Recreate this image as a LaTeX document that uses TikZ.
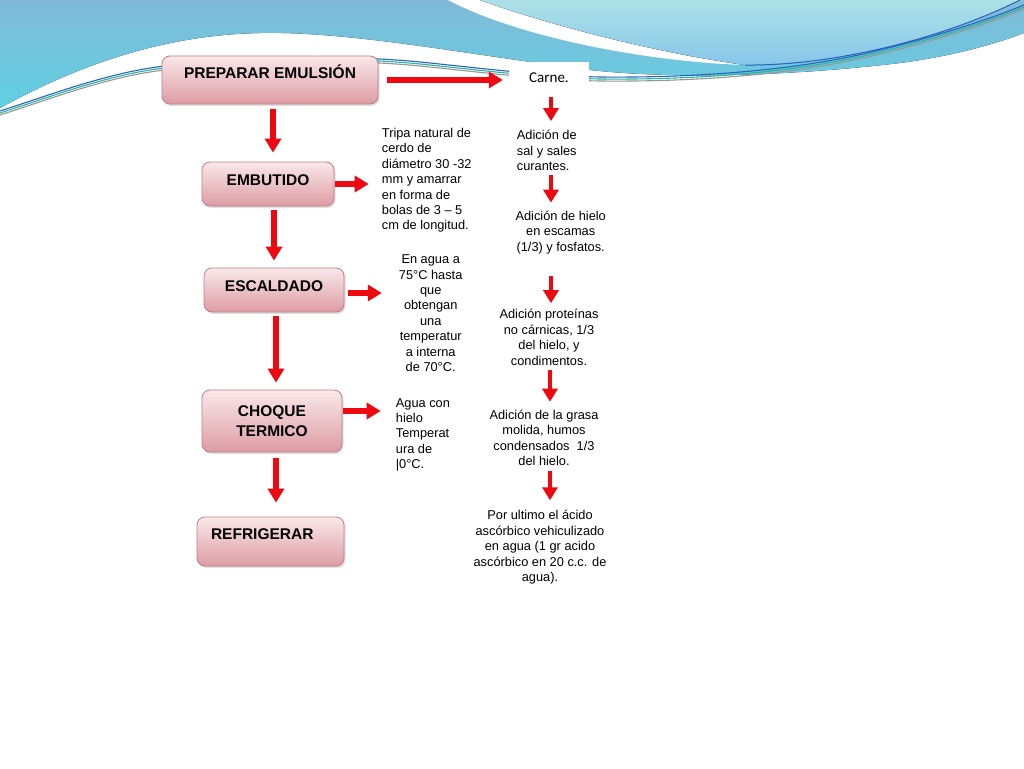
\documentclass[tikz,border=0pt]{standalone}
\usepackage{fontspec}
\setmainfont{Liberation Sans}
\newfontfamily\carlito{Carlito}
\usetikzlibrary{arrows.meta, shadows, calc}

\definecolor{rojo}{RGB}{238,8,16}
\definecolor{borde}{RGB}{190,125,134}
\definecolor{rosaclaro}{RGB}{249,232,234}
\definecolor{rosa}{RGB}{221,156,164}
\definecolor{ondaA1}{RGB}{128,186,216}
\definecolor{ondaA2}{RGB}{96,208,226}
\definecolor{ondaB1}{RGB}{172,225,230}
\definecolor{ondaB2}{RGB}{135,198,234}
\definecolor{ondaazul}{RGB}{40,100,190}
\definecolor{ondaverde}{RGB}{40,180,160}
\definecolor{ondagris}{RGB}{150,150,150}

\tikzset{
  etapa/.style={draw=borde, line width=0.8pt, rounded corners=8pt, top color=rosaclaro, bottom color=rosa,
    inner sep=0pt, align=center, font=\bfseries\fontsize{15.5}{20}\selectfont,
    drop shadow={opacity=0.25, shadow xshift=1.5pt, shadow yshift=-2pt}},
  nota/.style={inner sep=0pt, font=\fontsize{12.8}{15.4}\selectfont},
  flecha/.style={draw=rojo, line width=6pt, -{Triangle[length=14pt,width=16pt]}},
  flechita/.style={draw=rojo, line width=4.5pt, -{Triangle[length=13pt,width=15pt]}},
}

\begin{document}
\begin{tikzpicture}[x=1pt,y=-1pt]
  \useasboundingbox (0,0) rectangle (1024,768);
  \fill[white] (0,0) rectangle (1024,768);

  % fondo: ondas
  \fill[top color=ondaA1, bottom color=ondaA2] (0,0) -- (0,108) .. controls (60,75) and (150,35) .. (260,33)
    .. controls (350,31) and (470,55) .. (590,70) .. controls (680,80) and (800,75) .. (900,63)
    .. controls (960,55) and (1000,42) .. (1024,33) -- (1024,0) -- cycle;
  \fill[white] (448,0) .. controls (520,38) and (650,62) .. (745,65) .. controls (650,52) and (540,22) .. (480,0) -- cycle;
  \fill[top color=ondaB1, bottom color=ondaB2] (480,0) .. controls (540,22) and (650,52) .. (745,65)
    .. controls (830,66) and (940,40) .. (1020,0) -- cycle;
  \draw[ondaazul, line width=1pt] (745,65) .. controls (830,66) and (940,40) .. (1020,0);
  \foreach \c/\d in {ondaazul/0, ondaverde/2, ondagris/4}
    \draw[\c, line width=1.1pt, yshift=-\d pt] (0,111) .. controls (50,95) and (110,72) .. (165,66)
      .. controls (250,56) and (350,55) .. (420,62) .. controls (480,68) and (540,76) .. (600,77)
      .. controls (700,78) and (800,70) .. (880,50) .. controls (950,33) and (1000,15) .. (1024,5);

  % etapas
  \node[etapa, minimum width=216pt, text height=22.5pt, text depth=25.5pt] (prep) at (270,80) {PREPARAR EMULSIÓN};
  \node[etapa, minimum width=132pt, text height=23pt, text depth=21pt] (emb) at (268,184) {EMBUTIDO};
  \node[etapa, minimum width=140pt, text height=23.5pt, text depth=20.5pt] (esc) at (274,290) {ESCALDADO};
  \node[etapa, minimum width=140pt, minimum height=62pt] (choque) at (272,421) {CHOQUE\\TERMICO};
  \node[etapa, align=left, text width=119pt, inner xsep=14pt, text height=22.5pt, text depth=26.5pt] (refri) at (270.5,541.5) {REFRIGERAR};

  % notas
  \node[nota, fill=white, minimum width=80pt, minimum height=33pt, font=\carlito\fontsize{15}{18}\selectfont] (carne) at (549,78) {Carne.};
  \node[nota, anchor=west, align=left] (tripa) at (381.7,180.3) {Tripa natural de\\cerdo de\\diámetro 30 -32\\mm y amarrar\\en forma de\\bolas de 3 – 5\\cm de longitud.};
  \node[nota, anchor=west, align=left] (sal) at (516.7,150.5) {Adición de\\sal y sales\\curantes.};
  \node[nota, align=center] (hielo) at (560.7,232.3) {Adición de hielo\\en escamas\\(1/3) y fosfatos.};
  \node[nota, align=center] (agua75) at (430.7,313.3) {En agua a\\75°C hasta\\que\\obtengan\\una\\temperatur\\a interna\\de 70°C.};
  \node[nota, align=center] (prot) at (549,337.3) {Adición proteínas\\no cárnicas, 1/3\\del hielo, y\\condimentos.};
  \node[nota, anchor=west, align=left] (hieloagua) at (395.7,434.8) {Agua con\\hielo\\Temperat\\ura de\\|0°C.};
  \node[nota, align=center] (grasa) at (544,437.8) {Adición de la grasa\\molida, humos\\condensados~~1/3\\del hielo.};
  \node[nota, align=center] (ultimo) at (540,547.3) {Por ultimo el ácido\\ascórbico vehiculizado\\en agua (1 gr acido\\ascórbico en 20 c.c. de\\agua).};

  % flechas
  \draw[flecha, shorten <=5pt, shorten >=9pt] ([xshift=3pt]prep.south) -- ([xshift=3pt]prep.south |- emb.north);
  \draw[flecha, shorten <=4pt, shorten >=7pt] ([xshift=6pt]emb.south) -- ([xshift=6pt]emb.south |- esc.north);
  \draw[flecha, shorten <=4pt, shorten >=7pt] ([xshift=2pt]esc.south) -- ([xshift=2pt]esc.south |- choque.north);
  \draw[flecha, shorten <=6pt, shorten >=14pt] ([xshift=4pt]choque.south) -- ([xshift=4pt]choque.south |- refri.north);
  \draw[flecha, shorten <=9pt, shorten >=6pt] (prep.east) -- (prep.east -| carne.west);
  \draw[flecha, shorten <=1pt, shorten >=13pt] (emb.east) -- (emb.east -| tripa.west);
  \draw[flecha, shorten <=4pt, shorten >=17pt] ([yshift=-3pt]esc.east) -- ([yshift=-3pt]esc.east -| agua75.west);
  \draw[flecha, shorten <=1pt, shorten >=15pt] ([yshift=10pt]choque.east) -- ([yshift=10pt]choque.east -| hieloagua.west);

  \draw[flechita, shorten <=2.5pt, shorten >=9pt] ([xshift=2pt]carne.south) -- ([xshift=2pt]carne.south |- sal.north);
  \draw[flechita, shorten <=4pt, shorten >=8pt] ([xshift=2pt]sal.south -| carne) -- ([xshift=2pt]hielo.north -| carne);
  \draw[flechita, shorten <=22pt, shorten >=6pt] ([xshift=2pt]hielo.south -| carne) -- ([xshift=2pt]prot.north -| carne);
  \draw[flechita, shorten <=5pt, shorten >=8pt] ([xshift=1pt]prot.south -| carne) -- ([xshift=1pt]grasa.north -| carne);
  \draw[flechita, shorten <=5pt, shorten >=10pt] ([xshift=1pt]grasa.south -| carne) -- ([xshift=1pt]ultimo.north -| carne);
\end{tikzpicture}
\end{document}
